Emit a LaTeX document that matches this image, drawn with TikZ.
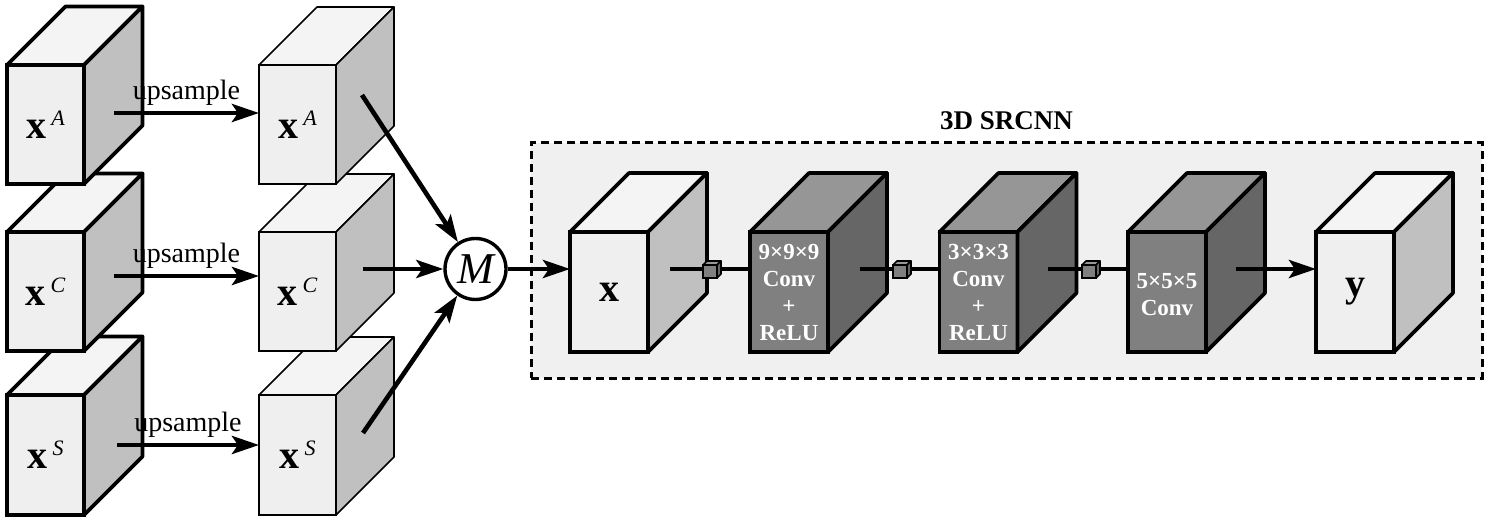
\documentclass[tikz,border=0pt]{standalone}
\usepackage{fontspec}
\setmainfont{Liberation Serif}
\usetikzlibrary{arrows.meta,calc}
\definecolor{Lfront}{HTML}{EFEFEF}
\definecolor{Ltop}{HTML}{F4F4F4}
\definecolor{Lside}{HTML}{C0C0C0}
\definecolor{Dfront}{HTML}{808080}
\definecolor{Dtop}{HTML}{969696}
\definecolor{Dside}{HTML}{666666}
\definecolor{boxbg}{HTML}{F0F0F0}
\newcommand{\mycube}[8]{%
  \node[draw, line width=#6, fill=#7front, minimum width=#3, minimum height=#4,
        inner sep=0pt, outer sep=0pt] (#1) at (#2) {#8};
  \filldraw[line width=#6, fill=#7top, line join=round]
     (#1.north west) -- ++(#5,-#5) -- ++(#3,0) -- (#1.north east) -- cycle;
  \filldraw[line width=#6, fill=#7side, line join=round]
     (#1.north east) -- ++(#5,-#5) -- ++(0,#4) -- (#1.south east) -- cycle;
}
\newcommand{\lbl}[1]{{\fontsize{40}{40}\selectfont\bfseries x}\hspace{5pt}\raisebox{13pt}{\fontsize{22}{22}\selectfont\itshape #1}}
\tikzset{
  arr/.style={line width=4.6pt, -{Stealth[length=27pt,width=18pt,inset=6pt]}},
  conn/.style={line width=3.2pt},
  upl/.style={midway, above=5pt, inner sep=0pt, font=\fontsize{28}{30}\selectfont},
  convtext/.style={text=white, align=center, font=\fontsize{23}{27}\selectfont\bfseries},
}
\begin{document}
\begin{tikzpicture}[x=1pt,y=-1pt]
\useasboundingbox (0,0) rectangle (1487,518);
% left column (low resolution)
\mycube{lS}{45.5,455}{77}{120}{58.5}{3.7pt}{L}{\lbl{S}}
\mycube{lC}{45.5,291.5}{77}{119}{58.5}{3.7pt}{L}{\lbl{C}}
\mycube{lA}{45.5,124.5}{77}{119}{58.5}{3.7pt}{L}{\lbl{A}}
% middle column (upsampled)
\mycube{mS}{297.5,455}{77}{120}{58}{1.6pt}{L}{\lbl{S}}
\mycube{mC}{297.5,291.5}{77}{119}{58}{1.6pt}{L}{\lbl{C}}
\mycube{mA}{297.5,124.5}{77}{119}{58}{1.6pt}{L}{\lbl{A}}
% upsample arrows
\coordinate (uA) at (114,113);
\coordinate (uC) at (114,276);
\coordinate (uS) at (117,445);
\draw[arr] (uA) -- (uA -| mA.west) node[upl] {upsample};
\draw[arr] (uC) -- (uC -| mC.west) node[upl] {upsample};
\draw[arr] (uS) -- (uS -| mS.west) node[upl] {upsample};
% merge
\node[circle, draw, line width=3.4pt, minimum size=61pt, inner sep=0pt,
      font=\fontsize{44}{44}\selectfont\itshape] (M) at (475.5,269) {M};
\coordinate (dA) at (362,95);
\coordinate (dC) at (363,269);
\coordinate (dS) at (363,433);
\draw[arr] (dA) -- (M);
\draw[arr] (dC) -- (M);
\draw[arr] (dS) -- (M);
% SRCNN box
\node[draw, line width=3pt, dash pattern=on 8pt off 5pt, fill=boxbg,
      minimum width=951, minimum height=235, inner sep=0pt, outer sep=0pt] (box) at (1006.5,260.5) {};
\node[above=13pt, inner sep=0pt, font=\fontsize{27}{30}\selectfont\bfseries] (title) at (box.north) {3D SRCNN};
% cubes in SRCNN
\mycube{cx}{609,292}{78}{120}{59}{3.6pt}{L}{{\fontsize{40}{40}\selectfont\bfseries x}}
\mycube{k1}{789,292}{78}{120}{59}{3.6pt}{D}{}
\mycube{k2}{978.5,292}{78}{120}{59}{3.6pt}{D}{}
\mycube{k3}{1167,292}{78}{120}{59}{3.6pt}{D}{}
\mycube{cy}{1355,292}{78}{120}{59}{3.6pt}{L}{{\fontsize{40}{40}\selectfont\bfseries y}}
\node[convtext] (t1) at (k1) {9×9×9\\Conv\\+\\ReLU};
\node[convtext] (t2) at (k2) {3×3×3\\Conv\\+\\ReLU};
\node[convtext] (t3) at (1167,295) {5×5×5\\Conv};
% M to x
\draw[arr] (M.east) -- (M.east -| cx.west);
% connections
\coordinate (c1) at (670,269);
\coordinate (c2) at (860,269);
\coordinate (c3) at (1048,269);
\coordinate (c4) at (1236,269);
\draw[conn] (c1) -- (c1 -| k1.west);
\draw[conn] (c2) -- (c2 -| k2.west);
\draw[conn] (c3) -- (c3 -| k3.west);
\draw[arr] (c4) -- (c4 -| cy.west);
\mycube{s1}{710,271.5}{14}{13}{4}{1.6pt}{D}{}
\mycube{s2}{900,271.5}{14}{13}{4}{1.6pt}{D}{}
\mycube{s3}{1089,271.5}{14}{13}{4}{1.6pt}{D}{}
\end{tikzpicture}
\end{document}
